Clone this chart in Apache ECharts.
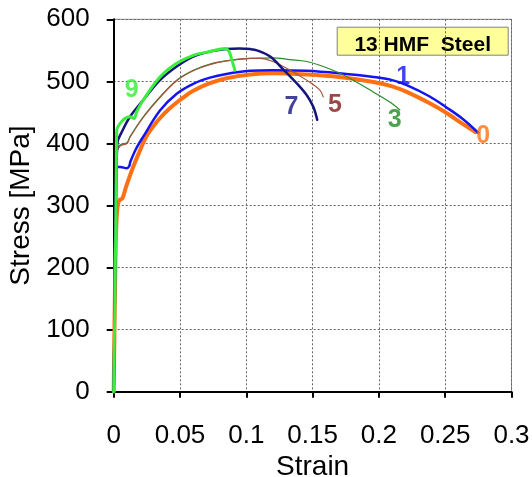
<!DOCTYPE html>
<html>
<head>
<meta charset="utf-8">
<script src="https://cdn.jsdelivr.net/npm/echarts@6/dist/echarts.min.js"></script>
<style>html,body{margin:0;padding:0;background:#fff}#c{width:532px;height:477px}</style>
</head>
<body>
<div id="c"></div>
<script>
// ---- data (strain, stress MPa) ----
const curve0 = [[0,0],[0.0012,200],[0.002,270],[0.003,300],[0.0045,309],[0.0065,311],[0.0093,330],[0.0143,360],[0.0193,386],[0.0243,410],[0.03,428],[0.035,441],[0.0415,455],[0.0475,466],[0.055,478],[0.06,485],[0.0726,497],[0.085,505],[0.103,511],[0.12,513],[0.1455,511],[0.17,507],[0.196,499],[0.21,492],[0.221,483],[0.238,465],[0.251,449],[0.2635,431],[0.273,418]];
const curve1 = [[0,0],[0.001,200],[0.0018,330],[0.0023,362],[0.005,362],[0.0098,360],[0.0118,364],[0.0125,370],[0.0168,391],[0.0223,411],[0.0349,453],[0.0475,480],[0.06,496],[0.0726,506],[0.085,512],[0.103,517],[0.12,518],[0.1455,517],[0.17,513],[0.196,507],[0.21,502],[0.221,494],[0.238,476],[0.251,458],[0.2635,439],[0.275,417]];
const curve3 = [[0,0],[0.0015,250],[0.0025,390],[0.005,398],[0.01,401],[0.0123,411],[0.0223,443],[0.0349,475],[0.0475,502],[0.06,518],[0.0726,528],[0.085,533],[0.103,537],[0.12,538],[0.133,535],[0.1455,532],[0.158,524],[0.1706,513],[0.183,499],[0.1957,483],[0.208,467],[0.2158,454]];
const curve5 = [[0,0],[0.0015,250],[0.0025,385],[0.005,396],[0.01,400],[0.0123,410],[0.0223,442],[0.0349,474],[0.0475,501],[0.06,517],[0.0726,527],[0.085,533],[0.103,537],[0.11,537],[0.12,532],[0.133,518],[0.1455,502],[0.1555,486],[0.158,475]];
const curve7 = [[0,0],[0.0015,250],[0.0027,400],[0.006,418],[0.0123,443],[0.0223,470],[0.0349,502],[0.0475,524],[0.06,540],[0.0726,548],[0.085,552],[0.095,553],[0.103,552],[0.108,550],[0.118,540],[0.128,519],[0.138,497],[0.1455,478],[0.1505,459],[0.1535,438]];
const curve9 = [[0,0],[0.0015,250],[0.002,380],[0.0023,421],[0.0072,438],[0.0123,443],[0.0153,440],[0.0173,451],[0.0223,470],[0.0349,507],[0.0475,529],[0.06,542],[0.0726,548],[0.084,553],[0.087,548],[0.089,535],[0.0914,518]];

const labelNames  = ['9', '1', '7', '5', '3', '0'];
const labelStrain = [0.0136, 0.2183, 0.134, 0.1668, 0.212, 0.2786];
const labelStress = [486, 507, 459, 462, 438, 411];

const xTickValues = [0, 0.05, 0.1, 0.15, 0.2, 0.25, 0.3];
const yTickValues = [0, 100, 200, 300, 400, 500, 600];
const titleText = '13 HMF  Steel';

// ---- styles ----
const FONT = "'Liberation Sans', Arial, sans-serif";
const labelColors = {'9':'#33EE33','1':'#1414F0','7':'#14147E','5':'#7F1A1A','3':'#1E8C1E','0':'#FF7014'};

function line(name, data, color, width) {
  return {
    name, type: 'line', data, showSymbol: false, symbol: 'none',
    smooth: 0.35,
    lineStyle: { color, width, cap: 'round', join: 'round' }, itemStyle: { color }, silent: true
  };
}

const chart = echarts.init(document.getElementById('c'), null, { renderer: 'canvas' });
chart.setOption({
  animation: false,
  backgroundColor: '#fff',
  grid: { left: 113.7, right: 20.5, top: 19.3, bottom: 85.3, show: true, borderColor: '#8a8a8a', borderWidth: 1,
    containLabel: false, outerBoundsMode: 'none' },
  xAxis: {
    type: 'value', min: xTickValues[0], max: xTickValues[xTickValues.length-1], interval: 0.05,
    name: 'Strain', nameLocation: 'middle', nameGap: 59,
    nameTextStyle: { fontFamily: FONT, fontSize: 28, color: '#000' },
    axisLine: { show: true, onZero: false, lineStyle: { color: '#000', width: 2 } },
    axisTick: { show: true, inside: false, length: 6, lineStyle: { color: '#000', width: 2 } },
    axisLabel: { fontFamily: FONT, fontSize: 26, color: '#000', margin: 31,
      formatter: v => String(parseFloat(v.toFixed(2))) },
    splitLine: { show: true, lineStyle: { color: '#666', type: [2, 2], width: 1 } }
  },
  yAxis: {
    type: 'value', min: yTickValues[0], max: yTickValues[yTickValues.length-1], interval: 100,
    name: 'Stress [MPa]', nameLocation: 'middle', nameGap: 70,
    nameTextStyle: { fontFamily: FONT, fontSize: 28, color: '#000' },
    axisLine: { show: true, onZero: false, lineStyle: { color: '#000', width: 2 } },
    axisTick: { show: true, inside: false, length: 7, lineStyle: { color: '#000', width: 2 } },
    axisLabel: { fontFamily: FONT, fontSize: 26, color: '#000', margin: 24 },
    splitLine: { show: true, lineStyle: { color: '#666', type: [2, 2], width: 1 } }
  },
  series: [
    line('0', curve0, '#FF7014', 4),
    line('1', curve1, '#1414F0', 2.5),
    line('3', curve3, '#2A8A2A', 1.2),
    line('5', curve5, '#A0563C', 1.2),
    line('7', curve7, '#14147E', 2.5),
    line('9', curve9, '#3CEE3C', 3),
    {
      type: 'scatter', symbolSize: 0, silent: true, z: 10,
      data: labelNames.map((n, i) => ({
        value: [labelStrain[i], labelStress[i]], name: n,
        label: { show: true, position: 'inside', formatter: n, color: labelColors[n],
          fontFamily: FONT, fontSize: 25, fontWeight: 'bold' }
      }))
    }
  ],
  graphic: [{
    type: 'group', left: 336.7, top: 26.7,
    children: [
      { type: 'rect', shape: { x: 0, y: 0, width: 171, height: 28 },
        style: { fill: '#FFFF99', stroke: '#808080', lineWidth: 1 } },
      { type: 'text', x: 85.5, y: 18.5, style: { text: titleText, fontFamily: FONT, fontSize: 21,
        fontWeight: 'bold', fill: '#000', align: 'center', verticalAlign: 'middle' } }
    ]
  }]
});
</script>
</body>
</html>
